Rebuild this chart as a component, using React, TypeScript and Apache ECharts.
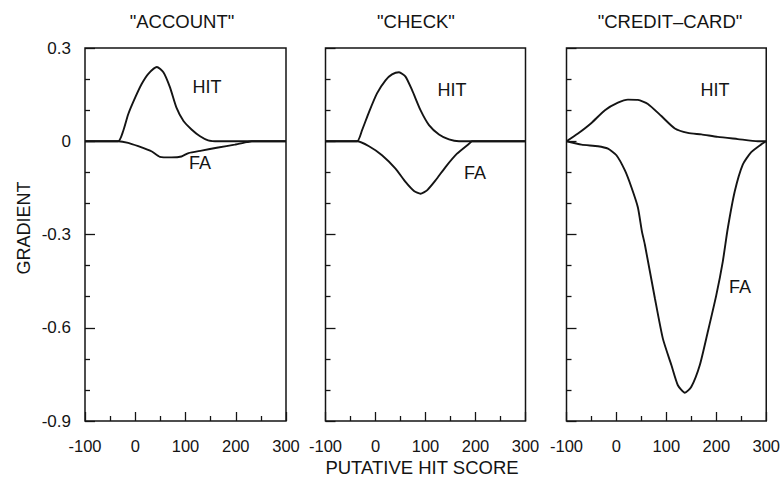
import React, { useEffect, useRef } from "react";
import * as echarts from "echarts";

const panelTitles = ['"ACCOUNT"', '"CHECK"', '"CREDIT\u2013CARD"'];
const xTicks = [-100, 0, 100, 200, 300];
const yTicks = [0.3, 0, -0.3, -0.6, -0.9];

const accountHit = [[-100,0],[-34,0],[-24,0.033],[-14,0.087],[0,0.141],[13,0.185],[26,0.217],[43,0.239],[56,0.222],[69,0.174],[82,0.108],[96,0.065],[112,0.038],[129,0.016],[145,0.003],[165,0],[300,0]];
const accountFa = [[-100,0],[-34,0],[-14,-0.005],[6,-0.016],[33,-0.033],[49,-0.05],[72,-0.052],[92,-0.049],[106,-0.038],[132,-0.03],[165,-0.02],[198,-0.011],[222,-0.003],[232,0],[300,0]];
const checkHit = [[-100,0],[-37,0],[-27,0.035],[-13,0.094],[3,0.154],[20,0.196],[33,0.215],[47,0.222],[60,0.208],[73,0.165],[90,0.1],[107,0.052],[127,0.022],[147,0.006],[167,0],[300,0]];
const checkFa = [[-100,0],[-37,0],[-13,-0.016],[13,-0.045],[40,-0.088],[60,-0.131],[77,-0.16],[90,-0.169],[103,-0.158],[120,-0.126],[140,-0.083],[163,-0.04],[187,-0.008],[193,0],[300,0]];
const creditHit = [[-100,0],[-77,0.025],[-50,0.059],[-23,0.1],[3,0.124],[23,0.134],[43,0.133],[63,0.12],[90,0.081],[117,0.041],[143,0.027],[170,0.022],[203,0.014],[243,0.007],[283,0],[300,0]];
const creditFa = [[-100,0],[-70,-0.011],[-37,-0.016],[-17,-0.024],[0,-0.045],[17,-0.094],[30,-0.148],[43,-0.213],[51,-0.29],[57,-0.333],[77,-0.505],[93,-0.635],[110,-0.72],[123,-0.785],[137,-0.809],[150,-0.79],[167,-0.72],[183,-0.613],[200,-0.495],[213,-0.387],[223,-0.28],[237,-0.161],[253,-0.075],[270,-0.035],[290,-0.01],[300,0]];

const FONT = "'Liberation Sans', Arial, Helvetica, sans-serif";
const INK = "#141414";

export default function App() {
  const ref = useRef<HTMLDivElement>(null);
  useEffect(() => {
    if (!ref.current) return;
    const chart = echarts.init(ref.current, null, { renderer: "svg" });
    const grids = [
      { left: 85, top: 48, width: 201, height: 373 },
      { left: 325.5, top: 48, width: 200, height: 373 },
      { left: 566.5, top: 48, width: 200.5, height: 373 },
    ];
    const curves = [
      [accountHit, accountFa],
      [checkHit, checkFa],
      [creditHit, creditFa],
    ];
    const titleX = [182, 416, 670];
    const labels = [
      { x: 207, y: 87, t: "HIT" }, { x: 200, y: 163, t: "FA" },
      { x: 452, y: 90, t: "HIT" }, { x: 475, y: 173, t: "FA" },
      { x: 715, y: 90, t: "HIT" }, { x: 740, y: 287, t: "FA" },
    ];
    const option: any = {
      animation: false,
      backgroundColor: "#fff",
      textStyle: { fontFamily: FONT },
      grid: grids.map((g) => ({ ...g, show: true, borderColor: INK, borderWidth: 1.5, backgroundColor: "transparent" })),
      xAxis: grids.map((_, i) => ({
        type: "value",
        gridIndex: i,
        position: "bottom",
        min: xTicks[0],
        max: xTicks[xTicks.length - 1],
        interval: 100,
        axisLine: { show: false, onZero: false },
        axisTick: { show: true, inside: true, length: 9, lineStyle: { color: INK, width: 1.3 } },
        minorTick: { show: true, splitNumber: 2, length: 5, lineStyle: { color: INK, width: 1.3 } },
        splitLine: { show: false },
        axisLabel: { show: true, margin: 16, fontSize: 16.5, color: INK, fontFamily: FONT, showMinLabel: true, showMaxLabel: true },
      })),
      yAxis: grids.map((_, i) => ({
        type: "value",
        gridIndex: i,
        position: "left",
        min: yTicks[yTicks.length - 1],
        max: yTicks[0],
        interval: 0.3,
        axisLine: { show: false, onZero: false },
        axisTick: { show: true, inside: true, length: 10, lineStyle: { color: INK, width: 1.3 } },
        minorTick: { show: true, splitNumber: 3, length: 5, lineStyle: { color: INK, width: 1.3 } },
        splitLine: { show: false },
        axisLabel: { show: i === 0, margin: 14, fontSize: 17, color: INK, fontFamily: FONT,
          formatter: (v: number) => { const r = Math.round(v * 10) / 10; return r === 0 ? "0" : String(r); } },
      })),
      series: curves.flatMap((pair, i) => pair.map((d) => ({
        type: "line",
        xAxisIndex: i,
        yAxisIndex: i,
        data: d,
        showSymbol: false,
        symbol: "none",
        smooth: 0.2,
        lineStyle: { color: INK, width: 1.9 },
        silent: true,
      }))),
      graphic: [
        ...panelTitles.map((t, i) => ({
          type: "text", x: titleX[i], y: 21,
          style: { text: t, fill: INK, font: `18.5px ${FONT}`, textAlign: "center", textVerticalAlign: "middle" },
        })),
        ...labels.map((l) => ({
          type: "text", x: l.x, y: l.y,
          style: { text: l.t, fill: INK, font: `18px ${FONT}`, textAlign: "center", textVerticalAlign: "middle" },
        })),
        {
          type: "text", x: 24, y: 228, rotation: Math.PI / 2,
          style: { text: "GRADIENT", fill: INK, font: `18px ${FONT}`, textAlign: "center", textVerticalAlign: "middle" },
        },
        {
          type: "text", x: 422, y: 467,
          style: { text: "PUTATIVE HIT SCORE", fill: INK, font: `18.5px ${FONT}`, textAlign: "center", textVerticalAlign: "middle" },
        },
      ],
    };
    chart.setOption(option);
    return () => chart.dispose();
  }, []);
  return <div ref={ref} style={{ width: 783, height: 478, position: "absolute", left: 0, top: 0 }} />;
}
